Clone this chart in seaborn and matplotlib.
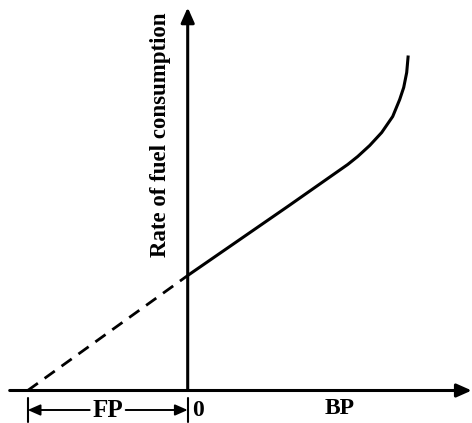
import numpy as np
import pandas as pd
import seaborn as sns
import matplotlib.pyplot as plt

# Willan's line: fuel consumption vs brake power (arbitrary units)
bp_dashed = [-16.0, 0.0]
fuel_dashed = [0.0, 11.5]

bp_solid = [0.0, 10.0, 16.0, 17.0, 18.2, 19.4, 20.5, 21.2, 21.6, 21.9, 22.05]
fuel_solid = [11.5, 18.4, 22.6, 23.4, 24.5, 25.8, 27.4, 29.1, 30.3, 31.8, 33.5]

fp_value = -16.0
x_axis_end = 28.4
x_axis_start = -17.8
y_axis_top = 38.3

sns.set_style('white')
plt.rcParams['font.family'] = ['Liberation Serif', 'DejaVu Serif']
plt.rcParams['text.color'] = 'black'

fig = plt.figure(figsize=(4.72, 4.23), dpi=100)
ax = fig.add_axes([0, 0, 1, 1])

df_solid = pd.DataFrame({'BP': bp_solid, 'fuel': fuel_solid})
df_dashed = pd.DataFrame({'BP': bp_dashed, 'fuel': fuel_dashed})

sns.lineplot(data=df_solid, x='BP', y='fuel', sort=False, color='black',
             lw=2.2, ax=ax, solid_capstyle='butt', solid_joinstyle='round')
sns.lineplot(data=df_dashed, x='BP', y='fuel', sort=False, color='black',
             lw=2.0, ax=ax, linestyle=(0, (4.5, 3)))

# axes with arrow heads
arrow = dict(arrowstyle='-|>,head_length=0.45,head_width=0.2', color='black',
             lw=2.2, mutation_scale=20, shrinkA=0, shrinkB=0)
ax.annotate('', xy=(x_axis_end, 0), xytext=(x_axis_start, 0), arrowprops=arrow)
ax.annotate('', xy=(0, y_axis_top), xytext=(0, 0), arrowprops=arrow)

# FP dimension below the axis
ax.plot([fp_value, fp_value], [-0.7, -3.1], color='black', lw=1.5)
ax.plot([0, 0], [-0.7, -3.1], color='black', lw=1.5)
dim = dict(arrowstyle='-|>,head_length=0.5,head_width=0.22', color='black',
           lw=1.4, mutation_scale=15, shrinkA=0, shrinkB=0)
ax.annotate('', xy=(fp_value, -1.95), xytext=(-9.8, -1.95), arrowprops=dim)
ax.annotate('', xy=(0, -1.95), xytext=(-6.2, -1.95), arrowprops=dim)

ax.text(-8.0, -2.0, 'FP', ha='center', va='center', fontsize=18, fontweight='bold')
ax.text(0.4, -2.0, '0', ha='left', va='center', fontsize=17, fontweight='bold')
ax.text(15.2, -1.75, 'BP', ha='center', va='center', fontsize=17, fontweight='bold')
ax.text(-2.75, 25.6, 'Rate of fuel consumption', rotation=90, ha='center',
        va='center', fontsize=16.5, fontweight='bold')

ax.set_xlim(-18.77, 28.43)
ax.set_ylim(-3.25, 39.05)
ax.axis('off')

plt.savefig('out.png', dpi=100)
